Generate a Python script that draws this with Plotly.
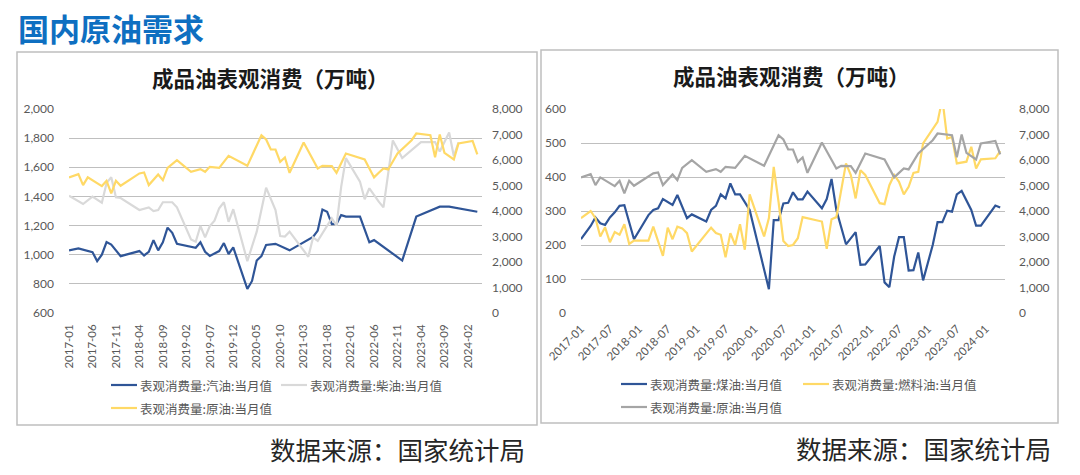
import plotly.graph_objects as go

W, H = 1080, 475

# category axis: 2017-01 .. 2024-05
months = [f"{y}-{m:02d}" for y in range(2017, 2025) for m in range(1, 13)][:89]

# ---- left chart: 汽油 / 柴油 (left axis), 原油 (right axis) ----
gas_x = ["2017-01", "2017-03", "2017-06", "2017-07", "2017-08", "2017-09", "2017-10", "2017-12",
         "2018-04", "2018-05", "2018-06", "2018-07", "2018-08", "2018-09", "2018-10", "2018-11", "2018-12",
         "2019-04", "2019-05", "2019-06", "2019-07", "2019-09", "2019-10", "2019-11", "2019-12",
         "2020-03", "2020-04", "2020-05", "2020-06", "2020-07", "2020-09", "2020-12",
         "2021-05", "2021-06", "2021-07", "2021-08", "2021-09", "2021-10", "2021-11", "2021-12",
         "2022-03", "2022-05", "2022-06", "2022-12", "2023-03", "2023-08", "2023-10", "2024-04"]
gasoline = [1030, 1043, 1018, 956, 1000, 1087, 1070, 990,
            1025, 995, 1020, 1100, 1030, 1085, 1186, 1150, 1075,
            1048, 1085, 1020, 992, 1025, 1080, 1005, 1050,
            765, 820, 960, 990, 1067, 1075, 1030,
            1122, 1166, 1310, 1295, 1210, 1212, 1272, 1262,
            1262, 1085, 1100, 960, 1262, 1330, 1330, 1295]

diesel_x = ["2017-01", "2017-04", "2017-06", "2017-08", "2017-09", "2017-10", "2017-11", "2017-12",
            "2018-04", "2018-06", "2018-07", "2018-08", "2018-09", "2018-11", "2018-12",
            "2019-02", "2019-03", "2019-04", "2019-05", "2019-06", "2019-07", "2019-08", "2019-09",
            "2019-10", "2019-11", "2019-12",
            "2020-03", "2020-05", "2020-06", "2020-07", "2020-09", "2020-10", "2020-11", "2020-12",
            "2021-04", "2021-05", "2021-06", "2021-09", "2021-10", "2021-11", "2021-12",
            "2022-03", "2022-04", "2022-05", "2022-07", "2022-08", "2022-10", "2022-12",
            "2023-04", "2023-07", "2023-08", "2023-10", "2023-11", "2023-12"]
diesel = [1405, 1348, 1399, 1357, 1491, 1532, 1394, 1389,
          1307, 1325, 1300, 1307, 1360, 1360, 1325,
          1185, 1105, 1089, 1197, 1119, 1197, 1233, 1319,
          1360, 1226, 1312,
          956, 1158, 1318, 1460, 1307, 1128, 1125, 1158,
          986, 1119, 1095, 1250, 1200, 1467, 1663,
          1502, 1381, 1456, 1364, 1325, 1784, 1663,
          1773, 1773, 1708, 1839, 1676, 1771]

crude_x = ["2017-01", "2017-03", "2017-04", "2017-05", "2017-08", "2017-09", "2017-10", "2017-11", "2017-12",
           "2018-04", "2018-05", "2018-06", "2018-08", "2018-09", "2018-10", "2018-12",
           "2019-03", "2019-05", "2019-06", "2019-07", "2019-09", "2019-11",
           "2020-03", "2020-06", "2020-07", "2020-08", "2020-09", "2020-10", "2020-11", "2020-12",
           "2021-03", "2021-06", "2021-07", "2021-09", "2021-10", "2021-12",
           "2022-04", "2022-06", "2022-07", "2022-08", "2022-09", "2022-10", "2022-11",
           "2023-02", "2023-03", "2023-06", "2023-07", "2023-08", "2023-09", "2023-11", "2023-12",
           "2024-03", "2024-04"]
crude = [5318, 5447, 5017, 5318, 4977, 5185, 4692, 5185, 4989,
         5474, 5513, 5017, 5434, 5212, 5693, 5994,
         5537, 5642, 5537, 5732, 5693, 6162,
         5771, 6972, 6803, 6412, 6412, 5928, 6097, 5497,
         6686, 5669, 5770, 5757, 5497, 6256,
         6021, 5318, 5497, 5669, 5630, 5928, 6256,
         6776, 7038, 6972, 6110, 7000, 6280, 6021, 6647,
         6749, 6217]

# ---- right chart: 煤油 / 燃料油 (left axis), 原油 (right axis) ----
kero_x = ["2017-01", "2017-03", "2017-04", "2017-05", "2017-06", "2017-07", "2017-08", "2017-09", "2017-10", "2017-12",
          "2018-03", "2018-04", "2018-05", "2018-06", "2018-08", "2018-09", "2018-11", "2018-12",
          "2019-03", "2019-04", "2019-05", "2019-06", "2019-07", "2019-08", "2019-09", "2019-10", "2019-12",
          "2020-04", "2020-05", "2020-06", "2020-07", "2020-08", "2020-09", "2020-10", "2020-11", "2020-12",
          "2021-03", "2021-04", "2021-05", "2021-06", "2021-08", "2021-09", "2021-10", "2021-11", "2021-12",
          "2022-03", "2022-04", "2022-05", "2022-06", "2022-07", "2022-08", "2022-09", "2022-10", "2022-11", "2022-12",
          "2023-02", "2023-03", "2023-04", "2023-05", "2023-06", "2023-07", "2023-08", "2023-10", "2023-11", "2023-12",
          "2024-03", "2024-04"]
kerosene = [217, 256, 281, 264, 259, 281, 296, 315, 317, 217,
            288, 303, 308, 335, 318, 347, 279, 290,
            269, 303, 315, 349, 337, 381, 349, 349, 303,
            70, 273, 273, 322, 324, 355, 334, 334, 357,
            308, 335, 394, 303, 202, 220, 238, 142, 143,
            197, 90, 76, 166, 223, 223, 125, 126, 178, 96,
            200, 267, 267, 301, 298, 349, 359, 303, 257, 257,
            316, 310]

fuel_x = ["2017-01", "2017-03", "2017-04", "2017-05", "2017-06", "2017-07", "2017-08", "2017-09", "2017-10", "2017-11", "2017-12",
          "2018-03", "2018-04", "2018-06", "2018-07", "2018-08", "2018-09", "2018-10", "2018-11", "2018-12",
          "2019-04", "2019-05", "2019-06", "2019-07", "2019-08", "2019-09", "2019-10", "2019-11", "2019-12",
          "2020-03", "2020-04", "2020-05", "2020-06", "2020-07", "2020-08", "2020-09", "2020-10", "2020-11",
          "2021-03", "2021-04", "2021-05", "2021-06", "2021-08", "2021-09", "2021-10", "2021-11", "2021-12",
          "2022-03", "2022-04", "2022-05", "2022-06", "2022-07", "2022-08", "2022-09", "2022-10", "2022-11", "2022-12",
          "2023-03", "2023-04", "2023-05", "2023-06", "2023-07", "2023-09", "2023-10", "2023-11", "2023-12",
          "2024-03", "2024-04"]
fuel_oil = [279, 300, 279, 225, 252, 208, 238, 230, 261, 203, 213,
            213, 254, 168, 251, 217, 254, 249, 235, 181,
            251, 235, 230, 164, 235, 200, 261, 186, 349,
            225, 279, 430, 327, 212, 197, 200, 220, 282,
            269, 189, 276, 282, 440, 406, 337, 420, 406,
            323, 320, 376, 406, 386, 349, 371, 412, 415, 499,
            562, 630, 513, 518, 440, 445, 489, 425, 452,
            455, 476]

BLUE = "#2F5597"
YELLOW = "#FFD966"
LGRAY = "#D9D9D9"
MGRAY = "#A5A5A5"
TXT = "#595959"
CJK = "Noto Sans CJK SC"
NUM = "Lato, Noto Sans CJK SC"


def px(x):
    return x / W


def py(y):
    return 1 - y / H


fig = go.Figure()
line_w = 2.2
fig.add_trace(go.Scatter(x=gas_x, y=gasoline, mode="lines", line=dict(color=BLUE, width=line_w),
                         xaxis="x", yaxis="y", showlegend=False))
fig.add_trace(go.Scatter(x=diesel_x, y=diesel, mode="lines", line=dict(color=LGRAY, width=line_w),
                         xaxis="x", yaxis="y", showlegend=False))
fig.add_trace(go.Scatter(x=crude_x, y=crude, mode="lines", line=dict(color=YELLOW, width=line_w),
                         xaxis="x", yaxis="y2", showlegend=False))
fig.add_trace(go.Scatter(x=kero_x, y=kerosene, mode="lines", line=dict(color=BLUE, width=line_w),
                         xaxis="x2", yaxis="y3", showlegend=False))
fig.add_trace(go.Scatter(x=fuel_x, y=fuel_oil, mode="lines", line=dict(color=YELLOW, width=line_w),
                         xaxis="x2", yaxis="y3", showlegend=False))
fig.add_trace(go.Scatter(x=crude_x, y=crude, mode="lines", line=dict(color=MGRAY, width=line_w),
                         xaxis="x2", yaxis="y4", showlegend=False))

ydom = [py(313), py(109)]
tickfont = dict(family=NUM, size=12, color=TXT)
xcommon = dict(type="category", categoryorder="array", categoryarray=months, range=[0, 88],
               showgrid=False, showline=False, ticks="", automargin=False,
               tickfont=dict(family=NUM, size=11.5, color=TXT))
ycommon = dict(showline=False, ticks="", zeroline=False, automargin=False, tickfont=tickfont, tickformat=",")

fig.update_layout(
    width=W, height=H, autosize=False,
    margin=dict(l=0, r=0, t=0, b=0),
    paper_bgcolor="white", plot_bgcolor="white",
    hovermode=False,
    xaxis=dict(domain=[px(69), px(482)], anchor="y", tickvals=months[0:86:5], tickangle=-90,
               ticklabelstandoff=8, **xcommon),
    yaxis=dict(domain=ydom, anchor="x", range=[600, 2000], dtick=200, showgrid=True,
               gridcolor="#BFBFBF", gridwidth=1.2, ticklabelstandoff=14, **ycommon),
    yaxis2=dict(overlaying="y", side="right", anchor="x", range=[0, 8000], dtick=1000,
                showgrid=False, ticklabelstandoff=9, **ycommon),
    xaxis2=dict(domain=[px(581), px(1005)], anchor="y3", tickvals=months[0:85:6], tickangle=-45,
                ticklabelstandoff=6, **xcommon),
    yaxis3=dict(domain=ydom, anchor="x2", range=[0, 600], dtick=100, showgrid=True,
                gridcolor="#BFBFBF", gridwidth=1.2, ticklabelstandoff=14, **ycommon),
    yaxis4=dict(overlaying="y3", side="right", anchor="x2", range=[0, 8000], dtick=1000,
                showgrid=False, ticklabelstandoff=13, **ycommon),
)

shapes = []
annos = []

# panel borders
for x0, x1, y0, y1 in [(17, 537, 52, 425), (541, 1058, 50, 423)]:
    shapes.append(dict(type="rect", xref="paper", yref="paper", x0=px(x0), x1=px(x1), y0=py(y1), y1=py(y0),
                       line=dict(color="#BFBFBF", width=1.5), fillcolor="rgba(0,0,0,0)", layer="below"))

# page title
annos.append(dict(text="<b>国内原油需求</b>", x=px(16), y=py(27), xanchor="left", yanchor="middle",
                  font=dict(family=CJK, size=31, color="#0E6FC1")))

# chart titles
for cx, cy in [(270, 77), (791, 75)]:
    annos.append(dict(text="<b>成品油表观消费（万吨）</b>", x=px(cx), y=py(cy), xanchor="center", yanchor="middle",
                      font=dict(family=CJK, size=21.5, color="#1A1A1A")))

# source notes
for rx, cy in [(527, 448), (1053, 447)]:
    annos.append(dict(text="数据来源：国家统计局", x=px(rx), y=py(cy), xanchor="right", yanchor="middle",
                      font=dict(family=CJK, size=25.5, color="#262626")))

# legends
legend_items = [
    (111, 385, BLUE, "表观消费量:汽油:当月值"),
    (281, 385, LGRAY, "表观消费量:柴油:当月值"),
    (111, 408, YELLOW, "表观消费量:原油:当月值"),
    (621, 384, BLUE, "表观消费量:煤油:当月值"),
    (803, 384, YELLOW, "表观消费量:燃料油:当月值"),
    (621, 407, MGRAY, "表观消费量:原油:当月值"),
]
for lx, ly, color, label in legend_items:
    shapes.append(dict(type="line", xref="paper", yref="paper", x0=px(lx), x1=px(lx + 26), y0=py(ly), y1=py(ly),
                       line=dict(color=color, width=2.2)))
    annos.append(dict(text=label, x=px(lx + 27), y=py(ly), xanchor="left", yanchor="middle",
                      font=dict(family=CJK, size=12.5, color=TXT)))

for a in annos:
    a.update(xref="paper", yref="paper", showarrow=False)
fig.update_layout(shapes=shapes, annotations=annos)

# drop the browser's default body margin so the figure sits at the page origin
fig.write_html("out.html", config={"displayModeBar": False},
               post_script="document.body.style.margin = '0';")
